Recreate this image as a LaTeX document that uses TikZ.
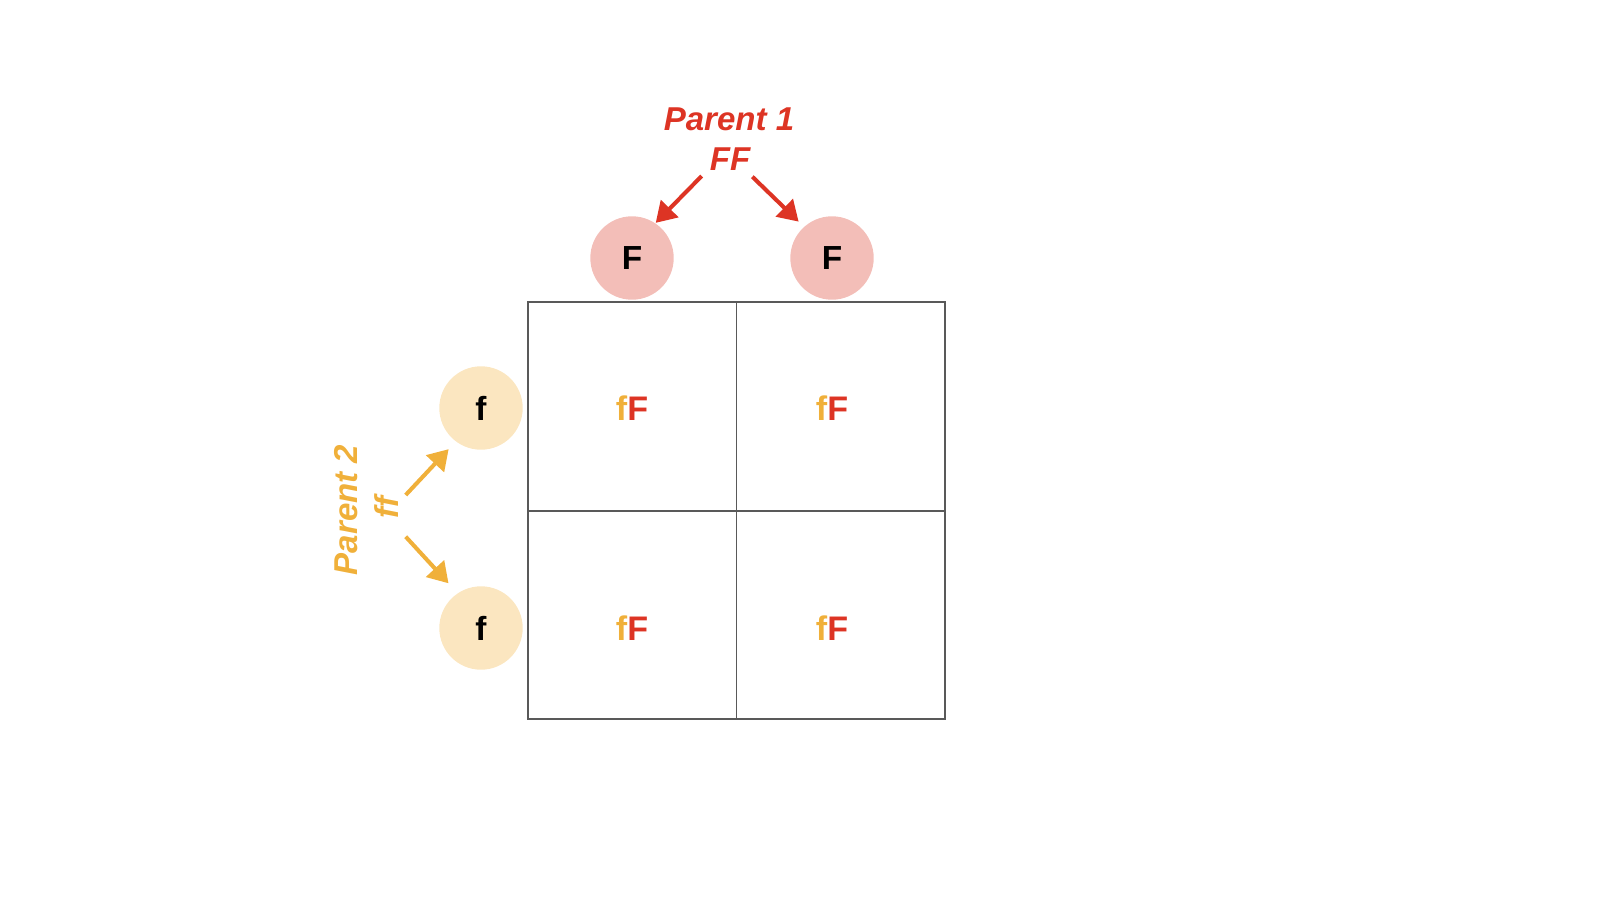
\documentclass[tikz,border=0pt]{standalone}
\usepackage{fontspec}
\setmainfont{Liberation Sans}
\usetikzlibrary{arrows.meta}
\definecolor{redP}{RGB}{221,52,36}
\definecolor{orP}{RGB}{240,176,58}
\definecolor{pinkG}{RGB}{243,190,184}
\definecolor{yelG}{RGB}{251,230,192}
\begin{document}
\begin{tikzpicture}[
        gamF/.style={circle, fill=pinkG, minimum size=0.834cm, inner sep=0pt, font=\fontsize{9.5}{11}\selectfont\bfseries},
        gamf/.style={gamF, fill=yelG},
        lab1/.style={text=redP, inner sep=0pt, anchor=base, font=\fontsize{9.4}{11}\selectfont\bfseries\itshape},
        lab2/.style={lab1, text=orP, rotate=90},
        arr1/.style={draw=redP, line width=1.15pt, -{Triangle[length=0.2cm,width=0.24cm]}},
        arr2/.style={arr1, draw=orP},
        cell/.style={inner sep=0pt, font=\fontsize{9.7}{11}\selectfont\bfseries}
    ]
    \useasboundingbox (0,0) rectangle (16,9);
    % punnett square
    \draw[black!65, line width=0.3pt] (5.28,1.81) rectangle (9.45,5.98)
        (7.367,1.81) -- (7.367,5.98) (5.28,3.89) -- (9.45,3.89);
    % gametes
    \node[gamF] (F1) at (6.32,6.42) {F};
    \node[gamF] (F2) at (8.32,6.42) {F};
    \node[gamf] (f1) at (4.81,4.92) {f};
    \node[gamf] (f2) at (4.81,2.72) {f};
    % parents
    \node[lab1] (p1) at (7.29,7.69) {Parent 1};
    \node[lab1] (p1g) at (7.30,7.29) {FF};
    \node[lab2] (p2) at (3.57,3.90) {Parent 2};
    \node[lab2] (p2g) at (3.98,3.925) {ff};
    \draw[arr1] ([shift={(-0.283,-0.05)}]p1g.base) -- (F1.56);
    \draw[arr1, shorten >=0.07cm] ([shift={(0.223,-0.057)}]p1g.base) -- (F2.132);
    \draw[arr2, shorten >=0.1cm] ([shift={(0.077,0.125)}]p2g.base) -- (f1.233);
    \draw[arr2, shorten >=0.13cm] ([shift={(0.077,-0.292)}]p2g.base) -- (f2.124);
    % offspring
    \node[cell] (c11) at (F1 |- f1) {\textcolor{orP}{f}\textcolor{redP}{F}};
    \node[cell] (c12) at (F2 |- f1) {\textcolor{orP}{f}\textcolor{redP}{F}};
    \node[cell] (c21) at (F1 |- f2) {\textcolor{orP}{f}\textcolor{redP}{F}};
    \node[cell] (c22) at (F2 |- f2) {\textcolor{orP}{f}\textcolor{redP}{F}};
\end{tikzpicture}
\end{document}
